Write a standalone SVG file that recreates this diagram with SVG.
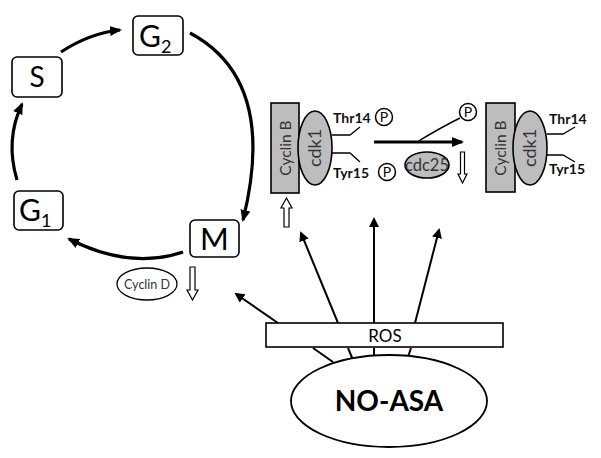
<svg xmlns="http://www.w3.org/2000/svg" width="601" height="458" viewBox="0 0 601 458">
<style>
.box{fill:#fff;stroke:#000;stroke-width:1.6}
.ph{font-family:Lato,"Liberation Sans",sans-serif;fill:#000}
.cyc{fill:none;stroke:#000;stroke-width:3.2}
.thin{fill:none;stroke:#000;stroke-width:2}
.prot{fill:#bdbdbd;stroke:#000;stroke-width:1.6}
.lbl{font-family:Lato,"Liberation Sans",sans-serif;fill:#333}
.site{font-family:Lato,"Liberation Sans",sans-serif;font-weight:bold;fill:#111;font-size:14px}
.hollow{fill:#fff;stroke:#000;stroke-width:1.2}
.pc{fill:#fff;stroke:#000;stroke-width:1.5}
.pt{font-family:Lato,"Liberation Sans",sans-serif;fill:#000;font-size:14px;text-anchor:middle}
</style>
<defs>
<marker id="ah" markerWidth="10" markerHeight="10" refX="8" refY="5" orient="auto" markerUnits="userSpaceOnUse"><path d="M0,0 L10,5 L0,10 Z" fill="#000"/></marker>
<marker id="ahs" markerWidth="12" markerHeight="10" refX="10" refY="5" orient="auto" markerUnits="userSpaceOnUse"><path d="M0,0 L12,5 L0,10 Z" fill="#000"/></marker>
</defs>

<g id="connectors">
<path class="cyc" d="M61,52 Q90,33 120,30" marker-end="url(#ahs)"/>
<path class="cyc" d="M190,33 Q278,80 243,220" marker-end="url(#ahs)"/>
<path class="cyc" d="M183,252 Q130,270 69,239" marker-end="url(#ahs)"/>
<path class="cyc" d="M17,180 Q5,140 22,104" marker-end="url(#ahs)"/>
<path class="thin" d="M278,323 L236,294" marker-end="url(#ah)"/>
<path class="thin" d="M313,348 L333,362"/>
<path class="thin" d="M338,323 L301,233" marker-end="url(#ah)"/>
<path class="thin" d="M348,348 L353,360"/>
<path class="thin" d="M374,323 L374,219" marker-end="url(#ah)"/>
<path class="thin" d="M374,348 L374,356"/>
<path class="thin" d="M415,323 L439,230" marker-end="url(#ah)"/>
<path class="thin" d="M411,348 L408,357"/>
<path fill="none" stroke="#000" stroke-width="3.2" d="M374,142 L462,142" marker-end="url(#ahs)"/>
<path fill="none" stroke="#000" stroke-width="1.4" d="M417,142 Q440,128 460,118"/>
<path class="hollow" d="M286.5,198 L292,208 L289,208 L289,227 L284,227 L284,208 L281,208 Z"/>
<path class="hollow" d="M190,267 L195,267 L195,290 L198,290 L192.5,300 L187,290 L190,290 Z"/>
<path class="hollow" d="M460.5,152 L464.5,152 L464.5,174 L467,174 L462.5,183 L458,174 L460.5,174 Z"/>
</g>

<g id="node-G2"><rect class="box" x="133" y="16" width="50" height="39" rx="5"/><text class="ph" x="139" y="47" font-size="30">G<tspan font-size="18" dy="6">2</tspan></text></g>
<g id="node-S"><rect class="box" x="12" y="57" width="50" height="40" rx="5"/><text class="ph" x="37" y="87" font-size="28" text-anchor="middle">S</text></g>
<g id="node-G1"><rect class="box" x="14" y="191" width="49" height="39" rx="5"/><text class="ph" x="19" y="221" font-size="30">G<tspan font-size="18" dy="6">1</tspan></text></g>
<g id="node-M"><rect class="box" x="190" y="220" width="49" height="37" rx="5"/><text class="ph" x="214.5" y="250" font-size="31" text-anchor="middle">M</text></g>

<g id="node-cyclinD"><ellipse cx="147" cy="284" rx="30" ry="16" fill="#fff" stroke="#000" stroke-width="1.3"/><text class="lbl" x="147" y="288.5" font-size="12.5" text-anchor="middle">Cyclin D</text></g>

<g id="node-complex1">
<rect class="prot" x="271" y="103" width="28" height="90"/>
<text class="lbl" font-size="15.5" text-anchor="middle" transform="translate(290.5,148) rotate(-90)">Cyclin B</text>
<ellipse class="prot" cx="315" cy="148" rx="17" ry="37"/>
<text class="lbl" font-size="18" text-anchor="middle" transform="translate(321,148) rotate(-90)">cdk1</text>
<path fill="none" stroke="#000" stroke-width="1.3" d="M332,135 L350,135 L360,127 M332,153 L350,153 L360,162"/>
<text class="site" x="333" y="123">Thr14</text>
<circle class="pc" cx="384" cy="117" r="8.5"/><text class="pt" x="384" y="122">P</text>
<text class="site" x="333" y="178">Tyr15</text>
<circle class="pc" cx="387" cy="172" r="8.5"/><text class="pt" x="387" y="177">P</text>
</g>

<g id="node-P-released"><circle class="pc" cx="468" cy="112" r="8.5"/><text class="pt" x="468" y="117">P</text></g>

<g id="node-cdc25"><ellipse class="prot" cx="427" cy="165" rx="22" ry="13"/><text class="lbl" x="427" y="171" font-size="16.5" text-anchor="middle">cdc25</text></g>

<g id="node-complex2">
<rect class="prot" x="486" y="103" width="29" height="89"/>
<text class="lbl" font-size="15.5" text-anchor="middle" transform="translate(506,148) rotate(-90)">Cyclin B</text>
<ellipse class="prot" cx="530" cy="148" rx="17" ry="37"/>
<text class="lbl" font-size="18" text-anchor="middle" transform="translate(536,148) rotate(-90)">cdk1</text>
<path fill="none" stroke="#000" stroke-width="1.3" d="M547,134 L563,134 L575,127 M547,155 L563,155 L575,162"/>
<text class="site" x="549" y="124">Thr14</text>
<text class="site" x="549" y="174">Tyr15</text>
</g>

<g id="node-ROS"><rect class="box" x="266" y="323" width="237" height="24" stroke-width="1.8"/><text class="ph" x="385" y="341.5" font-size="17" text-anchor="middle" fill="#222">ROS</text></g>

<g id="node-NOASA"><ellipse cx="389" cy="401" rx="98" ry="46" fill="#fff" stroke="#000" stroke-width="1.8"/><text class="ph" x="389" y="411" font-size="28" font-weight="bold" text-anchor="middle">NO-ASA</text></g>
</svg>
